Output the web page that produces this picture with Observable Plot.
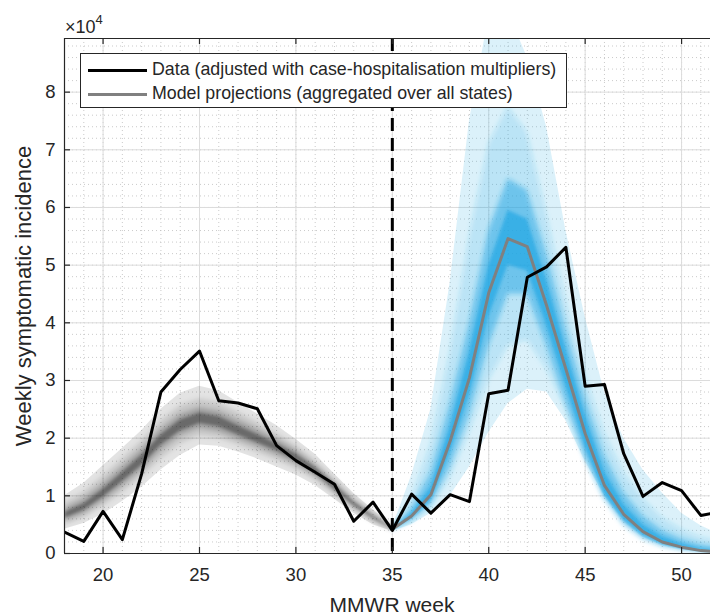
<!DOCTYPE html>
<html><head><meta charset="utf-8">
<script src="https://cdn.jsdelivr.net/npm/d3@7"></script>
<script src="https://cdn.jsdelivr.net/npm/@observablehq/plot@0.6"></script>
<style>
html,body{margin:0;padding:0;background:#fff;overflow:hidden;}
#wrap{position:relative;width:710px;height:615px;font-family:"Liberation Sans",Arial,Helvetica,sans-serif;color:#262626;}
#wrap svg{position:absolute;left:0;top:0;}
.ov{position:absolute;white-space:nowrap;line-height:1;}
#legend{position:absolute;left:80px;top:53px;width:487px;height:55px;border:1px solid #262626;background:#fff;box-sizing:border-box;}
#legend .sw{position:absolute;left:7px;width:59px;height:3px;}
#legend .tx{position:absolute;left:71px;font-size:17.8px;line-height:1;}
</style></head><body><div id="wrap"></div>
<script>
// ---- data (values in units of 10^4) ----
const dataWeeks = [18,19,20,21,22,23,24,25,26,27,28,29,30,31,32,33,34,35,36,37,38,39,40,41,42,43,44,45,46,47,48,49,50,51,52];
const dataValues = [0.37,0.21,0.73,0.24,1.38,2.80,3.19,3.51,2.65,2.61,2.51,1.87,1.61,1.41,1.20,0.56,0.89,0.40,1.03,0.70,1.02,0.90,2.77,2.83,4.79,4.97,5.31,2.90,2.93,1.73,0.99,1.23,1.09,0.66,0.72];

// fitted period (grey bands)
const fitWeeks = [18,19,20,21,22,23,24,25,26,27,28,29,30,31,32,33,34,35];
const fitOuterHi = [1.00,1.22,1.52,1.82,2.13,2.50,2.78,2.90,2.82,2.62,2.42,2.22,1.98,1.72,1.38,1.04,0.76,0.49];
const fitOuterLo = [0.42,0.52,0.68,0.90,1.15,1.45,1.70,1.88,1.86,1.76,1.64,1.50,1.36,1.18,0.94,0.70,0.50,0.38];
const fitMidHi   = [0.88,1.06,1.34,1.64,1.95,2.30,2.56,2.68,2.62,2.45,2.27,2.08,1.87,1.61,1.29,0.97,0.71,0.47];
const fitMidLo   = [0.50,0.62,0.82,1.06,1.32,1.64,1.90,2.04,2.00,1.88,1.75,1.62,1.47,1.28,1.02,0.76,0.55,0.40];
const fitInnerHi = [0.77,0.93,1.19,1.49,1.79,2.14,2.40,2.52,2.46,2.30,2.14,1.97,1.78,1.53,1.23,0.92,0.67,0.45];
const fitInnerLo = [0.57,0.70,0.92,1.18,1.45,1.80,2.05,2.18,2.12,1.99,1.86,1.72,1.56,1.35,1.08,0.81,0.59,0.41];
const fitCoreHi  = [0.71,0.86,1.11,1.40,1.70,2.05,2.31,2.43,2.37,2.21,2.06,1.90,1.72,1.49,1.19,0.89,0.65,0.44];
const fitCoreLo  = [0.61,0.75,0.98,1.25,1.53,1.88,2.13,2.26,2.20,2.06,1.92,1.78,1.62,1.40,1.11,0.83,0.61,0.42];

// projection period (blue bands + grey median)
const projWeeks = [35,36,37,38,39,40,41,42,43,44,45,46,47,48,49,50,51,52];
const projMedian  = [0.42,0.65,1.02,1.95,3.05,4.52,5.46,5.32,4.30,3.20,2.08,1.18,0.68,0.38,0.20,0.11,0.05,0.03];
const projOuterHi = [0.45,1.35,2.50,4.70,7.50,9.30,9.40,8.60,7.40,5.60,4.10,2.80,2.00,1.45,1.05,0.70,0.48,0.33];
const projOuterLo = [0.38,0.50,0.70,1.00,1.50,2.10,2.60,2.85,2.80,2.30,1.60,1.00,0.55,0.28,0.14,0.07,0.03,0.01];
const projMidHi   = [0.43,0.95,1.90,3.50,5.50,7.10,7.75,7.30,5.90,4.40,3.10,2.10,1.40,0.95,0.62,0.42,0.28,0.20];
const projMidLo   = [0.40,0.55,0.80,1.30,2.10,3.00,3.60,3.70,3.20,2.50,1.70,1.05,0.62,0.34,0.18,0.09,0.05,0.03];
const projInnerHi = [0.42,0.78,1.40,2.60,4.00,5.60,6.50,6.30,5.20,3.90,2.70,1.70,1.05,0.65,0.40,0.25,0.15,0.10];
const projInnerLo = [0.41,0.58,0.85,1.50,2.40,3.60,4.50,4.50,3.60,2.60,1.65,0.95,0.50,0.25,0.12,0.06,0.03,0.02];
const projCoreHi  = [0.42,0.70,1.15,2.20,3.50,5.00,5.95,5.80,4.75,3.55,2.40,1.42,0.85,0.50,0.29,0.17,0.09,0.06];
const projCoreLo  = [0.41,0.61,0.92,1.75,2.75,4.10,5.00,4.90,3.95,2.90,1.85,1.02,0.58,0.31,0.16,0.09,0.04,0.02];

const forecastWeek = [35];
const xTicks = [20,25,30,35,40,45,50];
const yTicks = [0,1,2,3,4,5,6,7,8];
const xDomain = [18, 51.5];
const yDomain = [0, 8.93];
const legendLabels = ["Data (adjusted with case-hospitalisation multipliers)", "Model projections (aggregated over all states)"];

// ---- build tables ----
const fitTable = fitWeeks.map((w,i)=>({w, oh:fitOuterHi[i], ol:fitOuterLo[i], mh:fitMidHi[i], ml:fitMidLo[i], ih:fitInnerHi[i], il:fitInnerLo[i], ch:fitCoreHi[i], cl:fitCoreLo[i]}));
const projTable = projWeeks.map((w,i)=>({w, med:projMedian[i], oh:projOuterHi[i], ol:projOuterLo[i], mh:projMidHi[i], ml:projMidLo[i], ih:projInnerHi[i], il:projInnerLo[i], ch:projCoreHi[i], cl:projCoreLo[i]}));
const dataTable = dataWeeks.map((w,i)=>({w, v:dataValues[i]}));

const W = 710, H = 615, mL = 64, mR = 0, mT = 38, mB = 62;
const plotW = W - mL - mR, plotH = H - mT - mB;
const BLUE = "#1fa6e3", GREY = "#000";

function band(table, lo, hi, fill, op, tag) {
  return Plot.areaY(table, {x: "w", y1: lo, y2: hi, fill, fillOpacity: op, clip: true, ariaDescription: tag});
}

const chart = Plot.plot({
  width: W, height: H,
  marginLeft: mL, marginRight: mR, marginTop: mT, marginBottom: mB,
  x: {domain: xDomain},
  y: {domain: yDomain},
  style: {fontFamily: '"Liberation Sans", Arial, Helvetica, sans-serif', color: "#262626", background: "#fff", overflow: "visible"},
  marks: [
    // minor grid
    Plot.ruleX(d3.range(18, 52, 1), {stroke: "#bdbdbd", strokeWidth: 0.8, strokeDasharray: "1,3"}),
    Plot.ruleY(d3.range(0.2, 8.93, 0.2), {stroke: "#bdbdbd", strokeWidth: 0.8, strokeDasharray: "1,3"}),
    // major grid
    Plot.ruleX(xTicks, {stroke: "#dcdcdc", strokeWidth: 1}),
    Plot.ruleY(yTicks, {stroke: "#dcdcdc", strokeWidth: 1}),
    // grey fitted bands
    band(fitTable, "ol", "oh", GREY, 0.11, "g1"),
    band(fitTable, "ml", "mh", GREY, 0.12, "g2"),
    band(fitTable, "il", "ih", GREY, 0.23, "g3"),
    band(fitTable, "cl", "ch", GREY, 0.31, "g4"),
    // blue projection bands
    band(projTable, "ol", "oh", BLUE, 0.16, "b1"),
    band(projTable, "ml", "mh", BLUE, 0.18, "b2"),
    band(projTable, "il", "ih", BLUE, 0.5, "b3"),
    band(projTable, "cl", "ch", BLUE, 0.65, "b4"),
    // model median
    Plot.line(projTable, {x: "w", y: "med", stroke: "#808080", strokeWidth: 3, clip: true}),
    // data
    Plot.line(dataTable, {x: "w", y: "v", stroke: "#000", strokeWidth: 3, clip: true}),
    // forecast start
    Plot.ruleX(forecastWeek, {stroke: "#000", strokeWidth: 3, strokeDasharray: "13,7"}),
    // box & inward ticks
    Plot.ruleX([xDomain[0]], {stroke: "#262626", strokeWidth: 1.2}),
    Plot.ruleY([yDomain[0]], {stroke: "#262626", strokeWidth: 1.2}),
    Plot.ruleY([yDomain[1]], {stroke: "#262626", strokeWidth: 1.2}),
    Plot.ruleX(xTicks, {stroke: "#262626", strokeWidth: 1.2, insetTop: plotH - 6}),
    Plot.ruleX(xTicks, {stroke: "#262626", strokeWidth: 1.2, insetBottom: plotH - 6}),
    Plot.ruleY(yTicks, {stroke: "#262626", strokeWidth: 1.2, insetRight: plotW - 6}),
    // tick labels
    Plot.axisX({ticks: xTicks, tickSize: 0, tickPadding: 14, fontSize: 18.5, label: null, tickFormat: d => String(d)}),
    Plot.axisY({ticks: yTicks, tickSize: 0, tickPadding: 9, fontSize: 18.5, label: null, tickFormat: d => String(d)})
  ]
});

const wrap = document.getElementById("wrap");
wrap.appendChild(chart);

// soft blur for inner gradient layers
const svg = d3.select(chart.tagName.toLowerCase() === "svg" ? chart : chart.querySelector("svg"));
const defs = svg.insert("defs", ":first-child");
defs.append("filter").attr("id", "soft").attr("x", "-20%").attr("y", "-20%").attr("width", "140%").attr("height", "140%")
  .append("feGaussianBlur").attr("stdDeviation", 2.6);
defs.append("filter").attr("id", "soft2").attr("x", "-20%").attr("y", "-20%").attr("width", "140%").attr("height", "140%")
  .append("feGaussianBlur").attr("stdDeviation", 1.6);
["g2","g3","g4","b2","b3","b4"].forEach(t => {
  svg.selectAll(`[aria-description="${t}"]`).each(function(){
    const path = d3.select(this).selectAll("path");
    path.attr("filter", t === "b4" || t === "g4" ? "url(#soft2)" : "url(#soft)");
  });
});

// overlays: exponent, axis titles, legend
function ov(html, css) { const d = document.createElement("div"); d.className = "ov"; d.innerHTML = html; Object.assign(d.style, css); wrap.appendChild(d); return d; }
ov('×10<span style="font-size:13px;position:relative;top:-9px;">4</span>', {left: "65px", top: "18px", fontSize: "18px"});
ov("MMWR week", {left: "392px", top: "594px", fontSize: "21px", transform: "translateX(-50%)"});
ov("Weekly symptomatic incidence", {left: "24px", top: "296px", fontSize: "22px", transform: "translate(-50%,-50%) rotate(-90deg)"});

const lg = document.createElement("div"); lg.id = "legend"; wrap.appendChild(lg);
const legendColors = ["#000", "#808080"];
legendLabels.forEach((t,i) => {
  const sw = document.createElement("div"); sw.className = "sw"; sw.style.top = (15 + i*24) + "px"; sw.style.background = legendColors[i]; lg.appendChild(sw);
  const tx = document.createElement("div"); tx.className = "tx"; tx.textContent = t; tx.style.top = (7 + i*24) + "px"; lg.appendChild(tx);
});
</script>
</body></html>
